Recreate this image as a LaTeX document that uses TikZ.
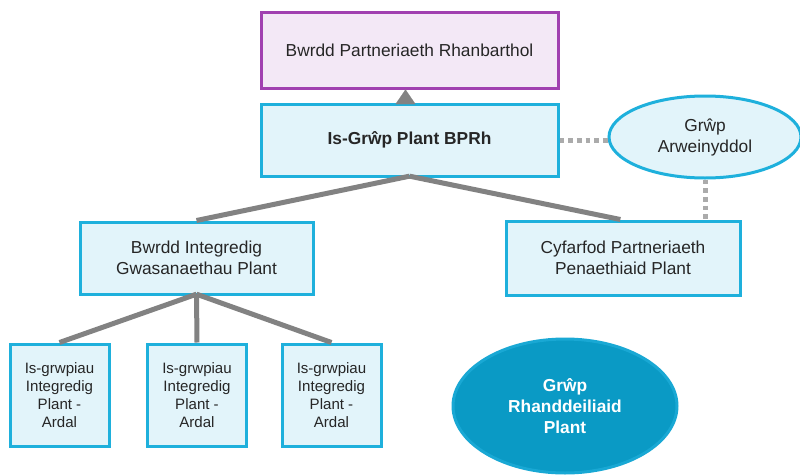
\documentclass[tikz,border=0pt]{standalone}
\usepackage{fontspec}
\setmainfont{Liberation Sans}
\usetikzlibrary{shapes.geometric,arrows.meta}
\definecolor{purpb}{HTML}{A040B0}
\definecolor{purpf}{HTML}{F3E8F6}
\definecolor{cyanb}{HTML}{1EB0DC}
\definecolor{cyanf}{HTML}{E2F4FA}
\definecolor{bigf}{HTML}{0A9AC5}
\definecolor{bigb}{HTML}{19A8D4}
\definecolor{linegrey}{HTML}{828282}
\definecolor{dotgrey}{HTML}{ABABAB}
\tikzset{
  mainfont/.style={font=\fontsize{13}{15.75}\selectfont},
  smallfont/.style={font=\fontsize{11.3}{13.5}\selectfont},
  purpbox/.style={draw=purpb, fill=purpf, line width=2.25pt, rectangle, align=center, mainfont, text=black!85},
  cyanbox/.style={draw=cyanb, fill=cyanf, line width=2.25pt, rectangle, align=center, mainfont, text=black!85},
  smallbox/.style={cyanbox, smallfont, minimum width=74.25pt, minimum height=76.5pt, inner sep=1pt},
  cyanell/.style={draw=cyanb, fill=cyanf, line width=2.25pt, ellipse, align=center, mainfont, text=black!85},
  bigell/.style={draw=bigb, fill=bigf, line width=2.25pt, ellipse, align=center, mainfont, text=white, font=\fontsize{13}{15.75}\selectfont\bfseries},
  conn/.style={draw=linegrey, line width=3.75pt},
  dotconn/.style={draw=dotgrey, line width=3.75pt, dash pattern=on 3.5pt off 3pt},
}
\begin{document}
\begin{tikzpicture}[x=0.75pt, y=-0.75pt]
\useasboundingbox[fill=white] (0,0) rectangle (800,475);
\node[purpbox, minimum width=222.75pt, minimum height=57pt] (rpb) at (409.5,50) {Bwrdd Partneriaeth Rhanbarthol};
\node[cyanbox, minimum width=222.75pt, minimum height=54pt, font=\fontsize{13}{15.75}\selectfont\bfseries] (isg) at (409.5,140) {Is-Grŵp Plant BPRh};
\node[cyanbox, minimum width=174.75pt, minimum height=54pt] (big) at (196.5,258) {Bwrdd Integredig\\Gwasanaethau Plant};
\node[cyanbox, minimum width=175.5pt, minimum height=55.5pt] (cyf) at (623,258) {Cyfarfod Partneriaeth\\Penaethiaid Plant};
\node[cyanell, minimum width=144pt, minimum height=61.5pt, inner sep=0pt] (lead) at (705,137) {Grŵp\\Arweinyddol};
\node[smallbox] (s1) at (59.5,395) {Is-grwpiau\\Integredig\\Plant -\\Ardal};
\node[smallbox] (s2) at (197,395) {Is-grwpiau\\Integredig\\Plant -\\Ardal};
\node[smallbox] (s3) at (331.5,395) {Is-grwpiau\\Integredig\\Plant -\\Ardal};
\node[bigell, minimum width=168pt, minimum height=100.5pt, inner sep=0pt] (rh) at (565,406) {Grŵp\\Rhanddeiliaid\\Plant};
\coordinate (isgb) at ([yshift=1pt]isg.south);
\draw[conn] (isgb) -- ([xshift=0pt]big.north);
\draw[conn] (isgb) -- ([xshift=-2pt]cyf.north);
\coordinate (bigb) at ([yshift=1pt]big.south);
\draw[conn] (bigb) -- (s1.north);
\draw[conn] (bigb) -- (s2.north);
\draw[conn] (bigb) -- (s3.north);
\draw[dotconn] (isg.east) -- (isg.east -| lead.west);
\draw[dotconn] (lead.south) -- (lead.south |- cyf.north);
\draw[draw=linegrey, fill=linegrey, line width=0.1pt, -{Triangle[width=15pt,length=11pt]}] ([xshift=-3pt]isg.north) -- ([xshift=-3pt]rpb.south);
\end{tikzpicture}
\end{document}
